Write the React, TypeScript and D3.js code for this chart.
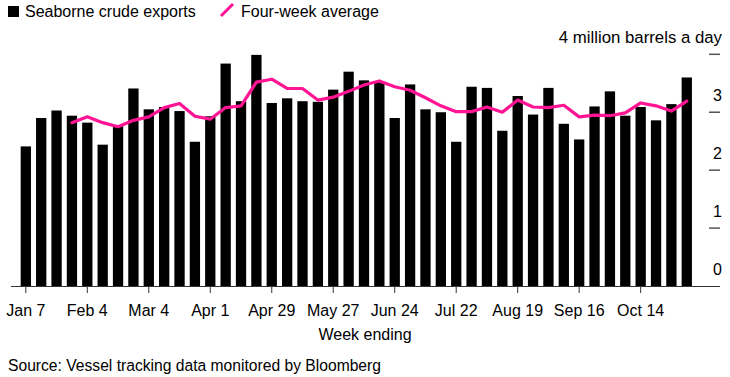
import React from "react";
import * as d3 from "d3";

const weeks: string[] = [
  "Jan 7", "Jan 14", "Jan 21", "Jan 28", "Feb 4", "Feb 11", "Feb 18", "Feb 25",
  "Mar 4", "Mar 11", "Mar 18", "Mar 25", "Apr 1", "Apr 8", "Apr 15", "Apr 22",
  "Apr 29", "May 6", "May 13", "May 20", "May 27", "Jun 3", "Jun 10", "Jun 17",
  "Jun 24", "Jul 1", "Jul 8", "Jul 15", "Jul 22", "Jul 29", "Aug 5", "Aug 12",
  "Aug 19", "Aug 26", "Sep 2", "Sep 9", "Sep 16", "Sep 23", "Sep 30", "Oct 7",
  "Oct 14", "Oct 21", "Oct 28", "Nov 4",
];

const exportsValues: number[] = [
  2.41, 2.9, 3.03, 2.94, 2.82, 2.44, 2.76, 3.41, 3.05, 3.09, 3.02, 2.49,
  2.93, 3.84, 3.19, 3.99, 3.16, 3.24, 3.19, 3.18, 3.39, 3.7, 3.55, 3.52,
  2.9, 3.48, 3.05, 3.0, 2.49, 3.44, 3.42, 2.68, 3.28, 2.96, 3.42, 2.8,
  2.53, 3.1, 3.36, 2.94, 3.09, 2.86, 3.14, 3.6,
];

// Four-week average, starting at the 4th week (Jan 28)
const avgStartIndex = 3;
const avgValues: number[] = [
  2.82, 2.92, 2.82, 2.75, 2.86, 2.92, 3.08, 3.15, 2.93, 2.88, 3.08, 3.11,
  3.52, 3.57, 3.41, 3.41, 3.21, 3.26, 3.36, 3.47, 3.54, 3.44, 3.38, 3.25,
  3.11, 3.01, 3.01, 3.09, 3.0, 3.21, 3.09, 3.08, 3.12, 2.92, 2.95, 2.94,
  2.99, 3.16, 3.11, 3.02, 3.19,
];

const tickLabels: string[] = [
  "Jan 7", "Feb 4", "Mar 4", "Apr 1", "Apr 29", "May 27", "Jun 24",
  "Jul 22", "Aug 19", "Sep 16", "Oct 14",
];

const yTicks: number[] = [0, 1, 2, 3, 4];

const PINK = "#ff1493";
const FONT = "'Liberation Sans', Arial, Helvetica, sans-serif";

export default function App() {
  const width = 730;
  const height = 377;

  const x = d3
    .scaleBand<string>()
    .domain(weeks)
    .range([15.6, 697])
    .padding(0.33);

  const y = d3.scaleLinear().domain([0, 4]).range([286, 54.3]);

  const line = d3
    .line<number>()
    .x((_, i) => (x(weeks[i + avgStartIndex]) as number) + x.bandwidth() / 2)
    .y((d) => y(d));

  return (
    <svg
      width={width}
      height={height}
      style={{ position: "absolute", left: 0, top: 0, background: "#fff" }}
      fontFamily={FONT}
    >
      {/* Legend */}
      <rect x={8} y={6} width={11} height={11} fill="#000" />
      <text x={25} y={16.7} fontSize={16} fill="#000">
        Seaborne crude exports
      </text>
      <line x1={221} y1={16} x2={233} y2={4} stroke={PINK} strokeWidth={3} />
      <text x={241} y={16.7} fontSize={16} fill="#000">
        Four-week average
      </text>

      {/* Y axis unit */}
      <text x={722} y={43.3} fontSize={16.8} textAnchor="end" fill="#000">
        4 million barrels a day
      </text>

      {/* Y ticks */}
      {yTicks.map((t) => (
        <g key={t}>
          {t > 0 && (
            <line x1={709} x2={720} y1={y(t)} y2={y(t)} stroke="#555" strokeWidth={1.5} />
          )}
          {t < 4 && (
            <text x={722} y={y(t) - 11} fontSize={16} textAnchor="end" fill="#000">
              {t}
            </text>
          )}
        </g>
      ))}

      {/* Bars */}
      {exportsValues.map((v, i) => (
        <rect
          key={weeks[i]}
          x={x(weeks[i])}
          y={y(v)}
          width={x.bandwidth()}
          height={y(0) - y(v)}
          fill="#000"
        />
      ))}

      {/* Four-week average line */}
      <path
        d={line(avgValues) || ""}
        fill="none"
        stroke={PINK}
        strokeWidth={3.2}
        strokeLinejoin="round"
        strokeLinecap="round"
      />

      {/* Baseline */}
      <line x1={11} x2={720} y1={286.5} y2={286.5} stroke="#333" strokeWidth={1} />

      {/* X ticks and labels */}
      {tickLabels.map((lab) => {
        const cx = (x(lab) as number) + x.bandwidth() / 2;
        return (
          <g key={lab}>
            <line x1={cx} x2={cx} y1={287} y2={293} stroke="#333" strokeWidth={1} />
            <text x={cx} y={316} fontSize={16} textAnchor="middle" fill="#000">
              {lab}
            </text>
          </g>
        );
      })}

      <text x={365} y={340} fontSize={16} textAnchor="middle" fill="#000">
        Week ending
      </text>

      <text x={8} y={371} fontSize={15.65} fill="#000">
        Source: Vessel tracking data monitored by Bloomberg
      </text>
    </svg>
  );
}
